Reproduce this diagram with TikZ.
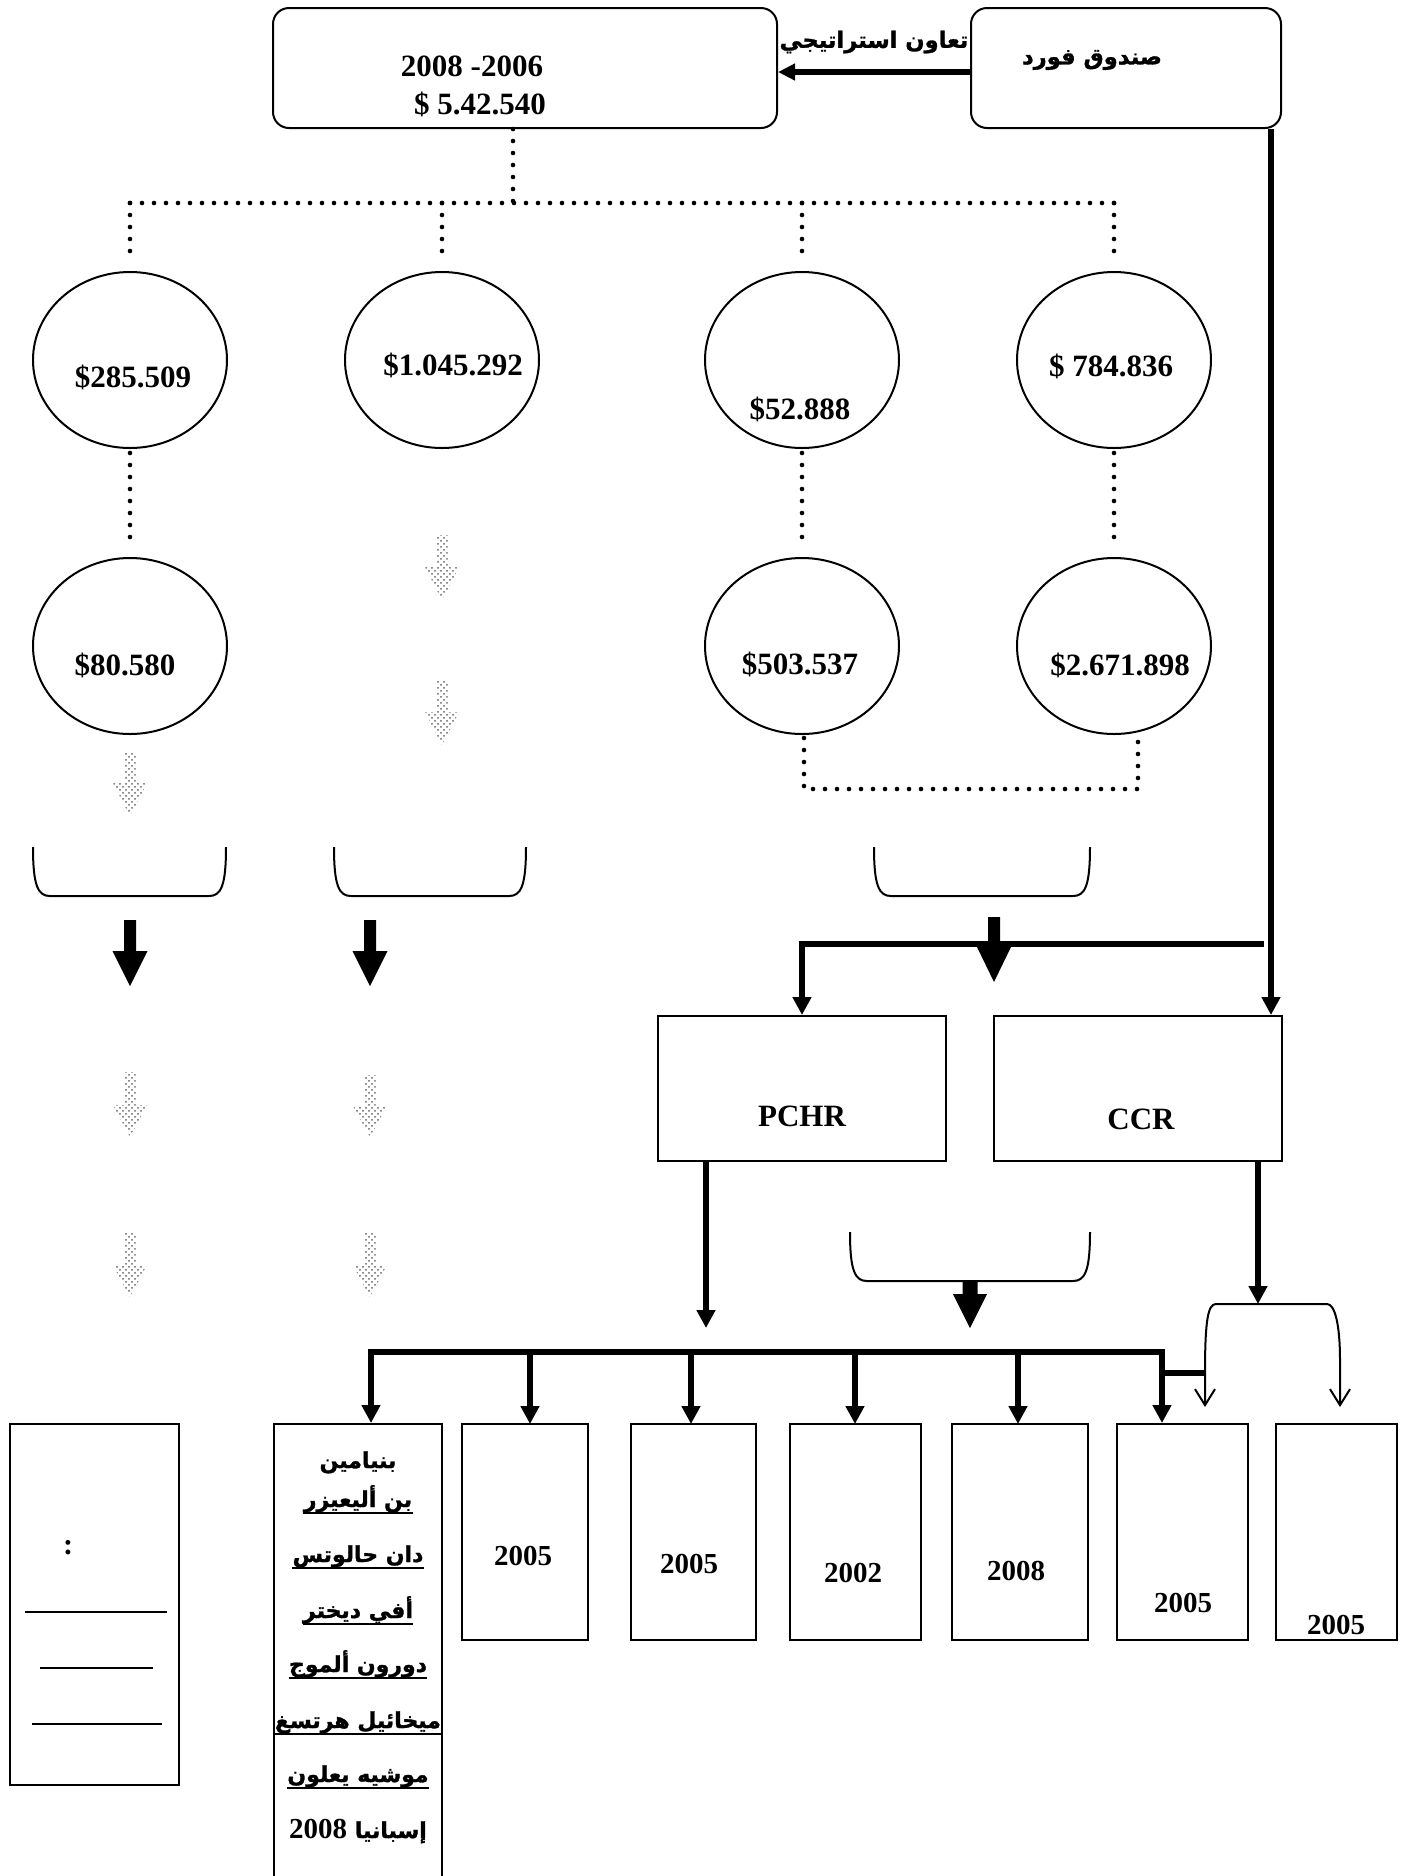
\documentclass[tikz,border=0pt]{standalone}
\usepackage{fontspec}
\setmainfont{Liberation Serif}
\newfontfamily\arabicfont[Script=Arabic,BoldFeatures={FakeBold=1.3}]{DejaVu Sans}
\TeXXeTstate=1
\usetikzlibrary{arrows.meta,patterns,shapes.geometric}
% #1 style, #2 x, #3 y top, #4 y head start, #5 y tip, #6 half shaft, #7 half head
\newcommand\blkarrow[7]{\path[#1] ({#2-#6},#3) -- ({#2+#6},#3) -- ({#2+#6},#4) -- ({#2+#7},#4) -- (#2,#5) -- ({#2-#7},#4) -- ({#2-#6},#4) -- cycle;}
\tikzset{
 rbox/.style={draw, line width=1pt, rounded corners=8pt, inner sep=0pt},
 sbox/.style={draw, line width=1pt, inner sep=0pt},
 oval/.style={draw, ellipse, line width=1pt, minimum width=97pt, minimum height=88pt, inner sep=0pt},
 num/.style={font=\bfseries\fontsize{15.5pt}{18pt}\selectfont, anchor=base, inner sep=0pt},
 yr/.style={font=\bfseries\fontsize{14.5pt}{17pt}\selectfont, anchor=base, inner sep=0pt},
 ar/.style={font=\arabicfont\bfseries\fontsize{11.3pt}{14pt}\selectfont, inner sep=0pt},
 nm/.style={font=\arabicfont\bfseries\fontsize{11pt}{13pt}\selectfont, anchor=base, inner sep=0pt},
 dotline/.style={line width=2.3pt, dash pattern=on 0pt off 6pt, line cap=round},
 thk/.style={line width=3pt},
 arrtip/.style={-{Triangle[length=9pt,width=9pt]}},
 fine/.style={line width=1pt},
 blk/.style={fill=black},
 gry/.style={pattern=crosshatch dots, pattern color=black!60},
 brk/.style={line width=1pt},
 ul/.style={line width=1.3pt},
}
\begin{document}
\begin{tikzpicture}[x=0.5pt,y=-0.5pt]
\useasboundingbox (0,0) rectangle (1409,1876);
\fill[white] (0,0) rectangle (1409,1876);
\clip (0,0) rectangle (1409,1876);

% ---------- top row
\node[rbox, minimum width=252pt, minimum height=60pt] (budget) at (525,68) {};
\node[rbox, minimum width=155pt, minimum height=60pt] (fund) at (1126,68) {};
\node[num] (t1) at (472,76) {2008 -2006};
\node[num] (t2) at (480,114) {\$ 5.42.540};
\node[ar] (fundtxt) at (1092,60) {\beginR صندوق فورد\endR};
\node[ar] (coop) at (874,42) {\beginR تعاون استراتيجي\endR};
\draw[line width=3.3pt, -{Triangle[length=8.5pt,width=8pt]}] ([yshift=-2pt]fund.west) -- ([yshift=-2pt]budget.east);

% ---------- circles
\node[oval] (c1) at (130,360) {};
\node[oval] (c2) at (442,360) {};
\node[oval] (c3) at (802,360) {};
\node[oval] (c4) at (1114,360) {};
\node[oval] (c5) at (130,646) {};
\node[oval] (c6) at (802,646) {};
\node[oval] (c7) at (1114,646) {};
\node[num] (n1) at (133,387) {\$285.509};
\node[num] (n2) at (453,375) {\$1.045.292};
\node[num] (n3) at (800,419) {\$52.888};
\node[num] (n4) at (1111,376) {\$ 784.836};
\node[num] (n5) at (125,675) {\$80.580};
\node[num] (n6) at (800,674) {\$503.537};
\node[num] (n7) at (1120,675) {\$2.671.898};

% ---------- dotted connectors
\coordinate (hub) at (513,203);
\draw[dotline] ([xshift=-6pt]budget.south) -- (hub);
\draw[dotline] (c1.north |- hub) -- (1118,203);
\foreach \c in {c1,c2,c3,c4} \draw[dotline, shorten >=5pt] (\c.north |- hub) -- (\c.north);
\draw[dotline, shorten <=2pt, shorten >=5pt] (c1.south) -- (c5.north);
\draw[dotline, shorten <=2pt, shorten >=5pt] (c3.south) -- (c6.north);
\draw[dotline, shorten <=2pt, shorten >=5pt] (c4.south) -- (c7.north);
\coordinate (dr) at (1138,789);
\draw[dotline] ([xshift=1pt]c6.south |- 0,738) -- ([xshift=1pt]c6.south |- dr) -- (dr) -- (dr |- 0,738);

% ---------- grey dotted arrows
\blkarrow{gry}{442}{535}{567}{600}{5.5}{17}
\blkarrow{gry}{442}{680}{712}{745}{5.5}{17}
\blkarrow{gry}{130}{752}{783}{816}{5.5}{17}
\blkarrow{gry}{130}{1072}{1105}{1137}{5.5}{17}
\blkarrow{gry}{370}{1075}{1106}{1137}{5.5}{17}
\blkarrow{gry}{130}{1232}{1265}{1297}{5.5}{17}
\blkarrow{gry}{370}{1232}{1265}{1297}{5.5}{17}

% ---------- brackets
\draw[brk] (33,847) .. controls (33,886) and (38,896) .. (50,896) -- (209,896) .. controls (221,896) and (226,886) .. (226,847);
\draw[brk] (334,847) .. controls (334,886) and (339,896) .. (351,896) -- (509,896) .. controls (521,896) and (526,886) .. (526,847);
\draw[brk] (874,847) .. controls (874,886) and (879,896) .. (891,896) -- (1073,896) .. controls (1085,896) and (1090,886) .. (1090,847);
\draw[brk] (850,1232) .. controls (850,1271) and (855,1281) .. (867,1281) -- (1073,1281) .. controls (1085,1281) and (1090,1271) .. (1090,1232);

% ---------- black block arrows
\blkarrow{blk}{130}{920}{951}{986}{6}{17.5}
\blkarrow{blk}{370}{920}{951}{986}{6}{17.5}

% ---------- PCHR / CCR
\node[sbox, minimum width=144pt, minimum height=72.5pt] (pchr) at (802,1088.5) {};
\node[sbox, minimum width=144pt, minimum height=72.5pt] (ccr) at (1138,1088.5) {};
\node[num] (pchrtxt) at (802,1126) {PCHR};
\node[num] (ccrtxt) at (1141,1129) {CCR};

\draw[thk, arrtip] ([xshift=72.5pt]fund.south) -- ([xshift=72.5pt]fund.south |- ccr.north);
\coordinate (hr) at (1264,944);
\draw[thk, arrtip] (hr) -- (pchr.north |- hr) -- (pchr.north);
\blkarrow{blk}{994}{917}{947}{982}{6}{17}

\coordinate (pend) at (706,1328);
\draw[thk, arrtip] (pchr.south -| pend) -- (pend);
\blkarrow{blk}{970}{1281}{1294}{1328}{7.5}{17}
\coordinate (brtop) at (1258,1304);
\draw[thk, arrtip] (ccr.south -| brtop) -- (brtop);

% ---------- bottom boxes
\node[sbox, minimum width=84.5pt, minimum height=180.5pt] (legend) at (94.5,1604.5) {};
\node[sbox, minimum width=84pt, minimum height=240pt] (names) at (358,1664) {};
\node[sbox, minimum width=63pt, minimum height=108pt] (y1) at (525,1532) {};
\node[sbox, minimum width=62.5pt, minimum height=108pt] (y2) at (693.5,1532) {};
\node[sbox, minimum width=65.5pt, minimum height=108pt] (y3) at (855.5,1532) {};
\node[sbox, minimum width=68pt, minimum height=108pt] (y4) at (1020,1532) {};
\node[sbox, minimum width=65.5pt, minimum height=108pt] (y5) at (1182.5,1532) {};
\node[sbox, minimum width=60.5pt, minimum height=108pt] (y6) at (1336.5,1532) {};
\node[yr] (y1t) at (523,1565) {2005};
\node[yr] (y2t) at (689,1573) {2005};
\node[yr] (y3t) at (853,1582) {2002};
\node[yr] (y4t) at (1016,1580) {2008};
\node[yr] (y5t) at (1183,1612) {2005};
\node[yr] (y6t) at (1336,1634) {2005};

% bus
\coordinate (bus) at (371,1352);
\coordinate (busend) at (1162,1352);
\draw[thk, arrtip] (busend) -- (bus) -- (bus |- names.north);
\draw[thk, arrtip] ([xshift=-10pt]busend) -- (busend) -- (busend |- y5.north);
\draw[thk, arrtip] (530,1352) -- (530,1424);
\draw[thk, arrtip] (691,1352) -- (691,1424);
\draw[thk, arrtip] (855,1352) -- (855,1424);
\draw[thk, arrtip] (1018,1352) -- (1018,1424);
\coordinate (stub) at (1205,1373);
\draw[thk] (stub -| busend) -- (stub);
\draw[brk, {Straight Barb[length=8pt,width=10pt]}-{Straight Barb[length=8pt,width=10pt]}] (1205,1407) -- (stub) .. controls (1205,1320) and (1208,1304) .. (1216,1304) -- (1327,1304) .. controls (1335,1304) and (1340,1325) .. (1340,1360) -- (1340,1407);

% legend contents
\node[font=\bfseries\fontsize{15pt}{17pt}\selectfont, inner sep=0pt] (colon) at (68,1548) {:};
\draw[fine] (25,1612) -- (167,1612);
\draw[fine] (40,1668) -- (153,1668);
\draw[fine] (32,1724) -- (162,1724);

% names
\node[nm] (m1) at (358,1468) {\beginR بنيامين\endR};
\node[nm] (m2) at (358,1507) {\beginR بن أليعيزر\endR};
\node[nm] (m3) at (358,1562) {\beginR دان حالوتس\endR};
\node[nm] (m4) at (358,1618) {\beginR أفي ديختر\endR};
\node[nm] (m5) at (358,1672) {\beginR دورون ألموج\endR};
\node[nm] (m6) at (358,1728) {\beginR ميخائيل هرتسغ\endR};
\node[nm] (m7) at (358,1782) {\beginR موشيه يعلون\endR};
\node[nm] (m8) at (358,1838) {\beginR إسبانيا \beginL{\rmfamily\fontsize{14.5pt}{16pt}\selectfont 2008}\endL\endR};
\foreach \m in {m2,m3,m4,m5,m6,m7}
  \draw[ul] ([yshift=-3pt]\m.base west) -- ([yshift=-3pt]\m.base east);
\end{tikzpicture}
\end{document}
